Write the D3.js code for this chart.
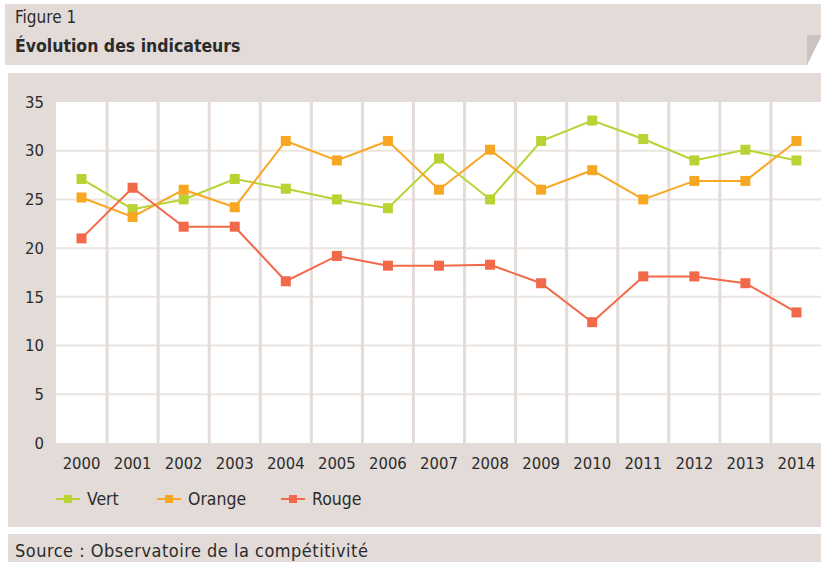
<!DOCTYPE html>
<html>
<head>
<meta charset="utf-8">
<script src="https://cdn.jsdelivr.net/npm/d3@7"></script>
<style>
  body { margin: 0; background: #fff; }
  svg { display: block; font-family: "DejaVu Sans Condensed", "DejaVu Sans", sans-serif; font-stretch: condensed; }
</style>
</head>
<body>
<div id="chart"></div>
<script>
// data
const years = ["2000","2001","2002","2003","2004","2005","2006","2007","2008","2009","2010","2011","2012","2013","2014"];
const vert   = [27.1, 24.0, 25.0, 27.1, 26.1, 25.0, 24.1, 29.2, 25.0, 31.0, 33.1, 31.2, 29.0, 30.1, 29.0];
const orange = [25.2, 23.2, 26.0, 24.2, 31.0, 29.0, 31.0, 26.0, 30.1, 26.0, 28.0, 25.0, 26.9, 26.9, 31.0];
const rouge  = [21.0, 26.2, 22.2, 22.2, 16.6, 19.2, 18.2, 18.2, 18.3, 16.4, 12.4, 17.1, 17.1, 16.4, 13.4];
const yTicks = [0, 5, 10, 15, 20, 25, 30, 35];
const seriesNames = ["Vert", "Orange", "Rouge"];
const colors = ["#b7d433", "#f8a722", "#f2694a"];

const W = 821, H = 562;
const panel = "#e2dbd8";
const textCol = "#2b2b2b";

const svg = d3.select("#chart").append("svg")
  .attr("width", W).attr("height", H);

// header box with folded corner
svg.append("path")
  .attr("d", "M5,4 H821 V35 L807,65 H5 Z")
  .attr("fill", panel);
svg.append("path")
  .attr("d", "M807,35 H821 V37 L807,65 Z")
  .attr("fill", "#cbc3bf");

svg.append("text").attr("x", 15).attr("y", 23)
  .attr("font-size", 17).attr("fill", textCol).text("Figure 1");
svg.append("text").attr("x", 15).attr("y", 52)
  .attr("font-size", 17.5).attr("font-weight", "bold").attr("fill", textCol)
  .text("Évolution des indicateurs");

// chart panel
svg.append("rect").attr("x", 8).attr("y", 73).attr("width", W - 8).attr("height", 454)
  .attr("fill", panel);

// footer
svg.append("rect").attr("x", 8).attr("y", 534).attr("width", W - 8).attr("height", 30)
  .attr("fill", panel);
svg.append("text").attr("x", 15).attr("y", 557)
  .attr("font-size", 18).attr("letter-spacing", 0.5).attr("fill", textCol)
  .text("Source : Observatoire de la compétitivité");

// plot area
const plotL = 56, plotR = 822, plotT = 102, plotB = 443;

const x = d3.scaleBand().domain(years).range([plotL, plotR]).padding(0);
const y = d3.scaleLinear().domain([0, 35]).range([plotB, plotT]);
const cx = d => x(d) + x.bandwidth() / 2;

svg.append("rect").attr("x", plotL).attr("y", plotT)
  .attr("width", plotR - plotL).attr("height", plotB - plotT).attr("fill", "#fff");

// horizontal grid
svg.append("g").selectAll("line")
  .data(yTicks.filter(t => t > 0 && t < 35))
  .enter().append("line")
  .attr("x1", plotL).attr("x2", plotR)
  .attr("y1", d => y(d)).attr("y2", d => y(d))
  .attr("stroke", "#ebe5e2").attr("stroke-width", 2);

// vertical grid at band boundaries
svg.append("g").selectAll("line")
  .data(years.slice(1))
  .enter().append("line")
  .attr("x1", d => x(d)).attr("x2", d => x(d))
  .attr("y1", plotT).attr("y2", plotB)
  .attr("stroke", "#e3dcd9").attr("stroke-width", 3);

// y axis labels
const yAxis = svg.append("g")
  .attr("transform", `translate(${plotL - 12},0)`)
  .call(d3.axisLeft(y).tickValues(yTicks).tickSize(0).tickPadding(0));
yAxis.select(".domain").remove();
yAxis.selectAll("text")
  .attr("font-size", 16.5).attr("fill", textCol);
yAxis.attr("font-family", null).attr("font-size", null);

// x axis labels
const xAxis = svg.append("g")
  .attr("transform", `translate(0,${plotB})`)
  .call(d3.axisBottom(x).tickSize(0).tickPadding(14));
xAxis.select(".domain").remove();
xAxis.selectAll("text")
  .attr("font-size", 16.5).attr("fill", textCol);
xAxis.attr("font-family", null).attr("font-size", null);

// series
const allSeries = [vert, orange, rouge];
const line = d3.line()
  .x((d, i) => cx(years[i]))
  .y(d => y(d));

allSeries.forEach((vals, k) => {
  const g = svg.append("g");
  g.append("path").datum(vals)
    .attr("d", line)
    .attr("fill", "none")
    .attr("stroke", colors[k])
    .attr("stroke-width", 2);
  g.selectAll("rect").data(vals).enter().append("rect")
    .attr("x", (d, i) => cx(years[i]) - 5)
    .attr("y", d => y(d) - 5)
    .attr("width", 10).attr("height", 10)
    .attr("fill", colors[k]);
});

// legend
const legendX = [56, 157, 281];
const leg = svg.append("g").attr("transform", "translate(0,499)");
seriesNames.forEach((name, k) => {
  const lg = leg.append("g").attr("transform", `translate(${legendX[k]},0)`);
  lg.append("line").attr("x1", 0).attr("x2", 24).attr("y1", 0).attr("y2", 0)
    .attr("stroke", colors[k]).attr("stroke-width", 2);
  lg.append("rect").attr("x", 8).attr("y", -4).attr("width", 8).attr("height", 8)
    .attr("fill", colors[k]);
  lg.append("text").attr("x", 31).attr("y", 6)
    .attr("font-size", 17.5).attr("fill", textCol).text(name);
});
</script>
</body>
</html>
